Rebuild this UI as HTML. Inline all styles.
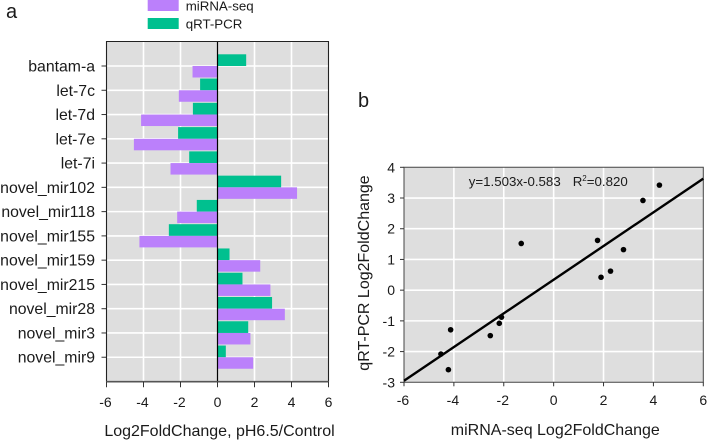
<!DOCTYPE html>
<html lang="en">
<head>
<meta charset="utf-8">
<title>miRNA-seq and qRT-PCR comparison</title>
<style>
html,body{margin:0;padding:0;background:#fff;width:707px;height:440px;overflow:hidden}
svg{display:block;position:absolute;left:0;top:0}
text{font-family:"Liberation Sans",Arial,sans-serif;fill:#1a1a1a}
</style>
</head>
<body>
<svg id="fig" width="707" height="440" viewBox="0 0 707 440" xmlns="http://www.w3.org/2000/svg"></svg>
<script>
const categories = ["bantam-a","let-7c","let-7d","let-7e","let-7i","novel_mir102","novel_mir118","novel_mir155","novel_mir159","novel_mir215","novel_mir28","novel_mir3","novel_mir9"];
const qpcrValues = [1.55,-0.94,-1.33,-2.13,-1.53,3.44,-1.12,-2.63,0.65,1.35,2.95,1.66,0.45];
const seqValues = [-1.35,-2.09,-4.13,-4.52,-2.54,4.30,-2.18,-4.22,2.31,2.86,3.64,1.78,1.93];
const barTicks = [-6,-4,-2,0,2,4,6];
const scatterX = [-1.30,-2.09,-4.13,-4.52,-2.54,4.24,-2.18,-4.22,2.28,2.80,3.58,1.76,1.90];
const scatterY = [1.52,-0.88,-1.29,-2.08,-1.48,3.42,-1.08,-2.59,0.62,1.32,2.92,1.62,0.42];
const scatterXTicks = [-6,-4,-2,0,2,4,6];
const scatterYTicks = [-3,-2,-1,0,1,2,3,4];
const trendX = [-6,6];
const trendY = [-2.95,3.63];

const NS = "http://www.w3.org/2000/svg";
const svg = document.getElementById("fig");
function add(tag, attrs, txt) {
  const n = document.createElementNS(NS, tag);
  for (const k in attrs) n.setAttribute(k, attrs[k]);
  if (txt !== undefined) n.textContent = txt;
  svg.appendChild(n);
  return n;
}
let el;

/* ---------- panel a ---------- */
const aL = 106.5, aR = 328.5, aT = 41.5, aB = 381.7;
const ax = v => aL + (v + 6) / 12 * (aR - aL);
const ay = i => 66 + i * 24.27;

el = add("text", {x: 6, y: 18, "font-size": 20}, "a");



el = add("rect", {x: 147.7, y: 0, width: 31, height: 11, fill: "#bb80fb"});


el = add("text", {x: 185.7, y: 10.5, "font-size": 13.3}, "miRNA-seq");


el = add("rect", {x: 147.7, y: 18, width: 31, height: 11, fill: "#00c08f"});


el = add("text", {x: 185.7, y: 28.5, "font-size": 13.3}, "qRT-PCR");



el = add("rect", {x: aL, y: aT, width: aR - aL, height: aB - aT, fill: "#dedede"});



barTicks.forEach(t => {
  if (Math.abs(t) === 6 || t === 0) return;
  const g = add("line", {x1: ax(t), x2: ax(t), y1: aT, y2: aB, stroke: "#fff", "stroke-width": 1.6});
  
  
});
categories.forEach((c, i) => {
  const g = add("line", {x1: aL, x2: aR, y1: ay(i), y2: ay(i), stroke: "#fff", "stroke-width": 1.6});
  
  
});

categories.forEach((c, i) => {
  const q = qpcrValues[i], m = seqValues[i];
  const b1 = add("rect", {x: Math.min(ax(0), ax(q)), y: ay(i) - 11.7, width: Math.abs(ax(q) - ax(0)), height: 11.7, fill: "#00c08f"});
  
  
  const b2 = add("rect", {x: Math.min(ax(0), ax(m)), y: ay(i), width: Math.abs(ax(m) - ax(0)), height: 11.5, fill: "#bb80fb"});
  
  
  const tk = add("line", {x1: aL - 5, x2: aL, y1: ay(i), y2: ay(i), stroke: "#333", "stroke-width": 1});
  
  
  const lb = add("text", {x: 95, y: ay(i) + 5.5, "font-size": 15.8, "text-anchor": "end"}, c);
  
  
});

el = add("line", {x1: ax(0), x2: ax(0), y1: aT, y2: aB, stroke: "#000", "stroke-width": 1.2});


el = add("path", {d: `M${aL} ${aB}V${aT}H${aR}V${aB}`, fill: "none", stroke: "#222", "stroke-width": 1.1});


el = add("line", {x1: aL - 0.5, x2: aR + 0.5, y1: aB, y2: aB, stroke: "#555", "stroke-width": 1.6});



barTicks.forEach(t => {
  const tk = add("line", {x1: ax(t), x2: ax(t), y1: aB, y2: aB + 5.5, stroke: "#333", "stroke-width": 1});
  
  
  const lb = add("text", {x: ax(t) - (t < 0 ? 1 : 0), y: 407, "font-size": 14, "text-anchor": "middle"}, String(t));
  
  
});
el = add("text", {x: 219.5, y: 436, "font-size": 16, "text-anchor": "middle"}, "Log2FoldChange, pH6.5/Control");



/* ---------- panel b ---------- */
const bL = 404, bR = 703.3, bT = 167.3, bB = 382.3;
const sx = v => bL + (v + 6) / 12 * (bR - bL);
const sy = v => bB - (v + 3) / 7 * (bB - bT);

el = add("text", {x: 358, y: 107, "font-size": 20}, "b");



el = add("rect", {x: bL, y: bT, width: bR - bL, height: bB - bT, fill: "#dedede"});



scatterXTicks.forEach(t => {
  if (Math.abs(t) === 6) return;
  const g = add("line", {x1: sx(t), x2: sx(t), y1: bT, y2: bB, stroke: "#fff", "stroke-width": 1.6});
  
  
});
scatterYTicks.forEach(t => {
  if (t === -3 || t === 4) return;
  const g = add("line", {x1: bL, x2: bR, y1: sy(t), y2: sy(t), stroke: "#fff", "stroke-width": 1.6});
  
  
});

el = add("path", {d: `M${bL} ${bB}V${bT}H${bR}V${bB}Z`, fill: "none", stroke: "#444", "stroke-width": 1});



scatterXTicks.forEach(t => {
  const tk = add("line", {x1: sx(t), x2: sx(t), y1: bB, y2: bB + 4, stroke: "#333", "stroke-width": 1});
  
  
  const lb = add("text", {x: sx(t) - (t < 0 ? 1 : 0), y: 405, "font-size": 14, "text-anchor": "middle"}, String(t));
  
  
});
scatterYTicks.forEach(t => {
  const tk = add("line", {x1: bL - 4, x2: bL, y1: sy(t), y2: sy(t), stroke: "#333", "stroke-width": 1});
  
  
  const lb = add("text", {x: 395, y: sy(t) + 5, "font-size": 14, "text-anchor": "end"}, String(t));
  
  
});

el = add("line", {x1: sx(trendX[0]), y1: sy(trendY[0]), x2: sx(trendX[1]), y2: sy(trendY[1]), stroke: "#000", "stroke-width": 2.4});



scatterX.forEach((x, i) => {
  const p = add("circle", {cx: sx(x), cy: sy(scatterY[i]), r: 2.8, fill: "#000"});
  
  
});

el = add("text", {x: 468.7, y: 186, "font-size": 13.3}, "y=1.503x-0.583");


el = add("text", {x: 572.7, y: 186, "font-size": 13.3});


const r1 = document.createElementNS(NS, "tspan");
r1.textContent = "R";
el.appendChild(r1);
const r2 = document.createElementNS(NS, "tspan");
r2.setAttribute("dy", "-5");
r2.setAttribute("font-size", "8");
r2.textContent = "2";
el.appendChild(r2);
const r3 = document.createElementNS(NS, "tspan");
r3.setAttribute("dy", "5");
r3.textContent = "=0.820";
el.appendChild(r3);

el = add("text", {x: 555.3, y: 435, "font-size": 16, "text-anchor": "middle"}, "miRNA-seq Log2FoldChange");


el = add("text", {x: 369, y: 273, "font-size": 16, "text-anchor": "middle", transform: "rotate(-90 369 273)"}, "qRT-PCR Log2FoldChange");


</script>
</body>
</html>
